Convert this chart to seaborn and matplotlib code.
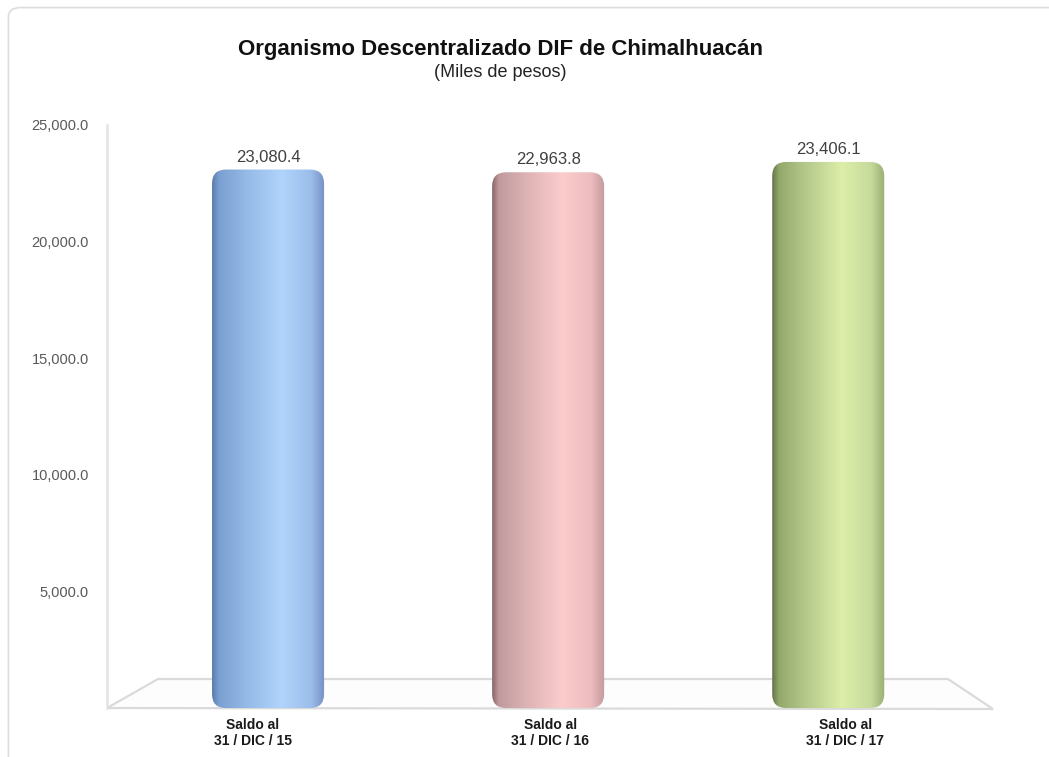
import numpy as np
import pandas as pd
import matplotlib
matplotlib.use("Agg")
import matplotlib.pyplot as plt
import seaborn as sns
from matplotlib.patches import FancyBboxPatch, Polygon
from matplotlib.colors import LinearSegmentedColormap
from matplotlib.ticker import FuncFormatter
from matplotlib.transforms import ScaledTranslation

categories = ["Saldo al\n31 / DIC / 15", "Saldo al\n31 / DIC / 16", "Saldo al\n31 / DIC / 17"]
values = [23080.4, 22963.8, 23406.1]
value_labels = ["23,080.4", "22,963.8", "23,406.1"]
yticks = [5000, 10000, 15000, 20000, 25000]

title = "Organismo Descentralizado DIF de Chimalhuacán"
subtitle = "(Miles de pesos)"

# cylinder shading stops per bar (left edge -> highlight -> right edge)
stops = [0.0, 0.06, 0.3, 0.62, 0.88, 1.0]
shades = [["#5a7cab", "#7a9fd2", "#94b9e6", "#b0d4fb", "#9cbdea", "#7590c4"],
          ["#8a6668", "#c09a9d", "#dcb2b4", "#fccccc", "#ecbcbe", "#c29a9c"],
          ["#65744a", "#93a86a", "#b5c98c", "#dceea8", "#c6da9c", "#9aae74"]]

sns.set_theme(style="white")
plt.rcParams["font.family"] = ["Liberation Sans", "DejaVu Sans"]

fig = plt.figure(figsize=(10.49, 7.57), dpi=100)
fig.patch.set_facecolor("white")

# outer chart frame
frame = FancyBboxPatch((0.008, -0.05), 1.05, 1.04, boxstyle="round,pad=0,rounding_size=0.012",
                       transform=fig.transFigure, facecolor="none", edgecolor="#dcdcdc", lw=1.2)
fig.patches.append(frame)

ax = fig.add_axes([0.102, 0.0647, 0.801, 0.7705])
df = pd.DataFrame({"cat": categories, "val": values})
sns.barplot(data=df, x="cat", y="val", ax=ax, width=0.4, color="#8db4e2", saturation=1)

ax.set_xlim(-0.575, 2.425)
ax.set_ylim(0, 25000)
ax.set_yticks(yticks)
ax.yaxis.set_major_formatter(FuncFormatter(lambda v, p: f"{v:,.1f}"))
ax.tick_params(axis="y", labelsize=10.5, colors="#595959", length=3, width=0.8,
               direction="out", color="#e6e6e6", pad=10)
ax.tick_params(axis="x", labelsize=10, length=0, pad=7)
offsets_px = [-15, 2, 17]
for lab, off in zip(ax.get_xticklabels(), offsets_px):
    lab.set_fontweight("bold")
    lab.set_color("#1a1a1a")
    lab.set_transform(lab.get_transform() + ScaledTranslation(off / 100, 0, fig.dpi_scale_trans))
ax.set_xlabel("")
ax.set_ylabel("")
for s in ["top", "right", "bottom"]:
    ax.spines[s].set_visible(False)
ax.spines["left"].set_color("#e3e3e3")
ax.spines["left"].set_linewidth(1.8)
ax.patch.set_alpha(0)

# floor (3D-like base) behind the bars
floor = Polygon([(0.102, 0.0647), (0.1506, 0.103), (0.9037, 0.103), (0.9466, 0.0634)],
                closed=True, transform=fig.transFigure, facecolor="#fdfdfd",
                edgecolor="#dadada", lw=1.6, zorder=0.5, clip_on=False)
ax.add_patch(floor)

fig.canvas.draw()
inv = ax.transData.inverted()
p0 = inv.transform((0, 0))
p1 = inv.transform((1, 1))
dx_px = p1[0] - p0[0]
dy_px = p1[1] - p0[1]

xs = np.linspace(0, 1, 256)
for i, bar in enumerate([p for p in ax.patches if p is not floor]):
    x = bar.get_x(); w = bar.get_width(); h = bar.get_height()
    bar.set_visible(False)
    rs = 14 * dx_px
    shape = FancyBboxPatch((x, 0), w, h, boxstyle=f"round,pad=0,rounding_size={rs}",
                           mutation_aspect=dy_px / dx_px, facecolor="none",
                           edgecolor="none", zorder=3)
    ax.add_patch(shape)
    cmap = LinearSegmentedColormap.from_list(f"c{i}", list(zip(stops, shades[i])))
    grad = np.tile(xs, (2, 1))
    im = ax.imshow(grad, extent=(x, x + w, 0, h), aspect="auto", cmap=cmap,
                   vmin=0, vmax=1, zorder=2, interpolation="bicubic")
    im.set_clip_path(shape)
    ax.text(x + w / 2, h + 5 * dy_px, value_labels[i], ha="center", va="bottom",
            fontsize=12, color="#404040")

ax.set_xlim(-0.575, 2.425)
ax.set_ylim(0, 25000)

fig.text(0.477, 0.934, title, ha="center", va="center", fontsize=16, fontweight="bold", color="#111111")
fig.text(0.477, 0.904, subtitle, ha="center", va="center", fontsize=13, color="#222222")

fig.savefig("out.png", dpi=100, facecolor="white")
